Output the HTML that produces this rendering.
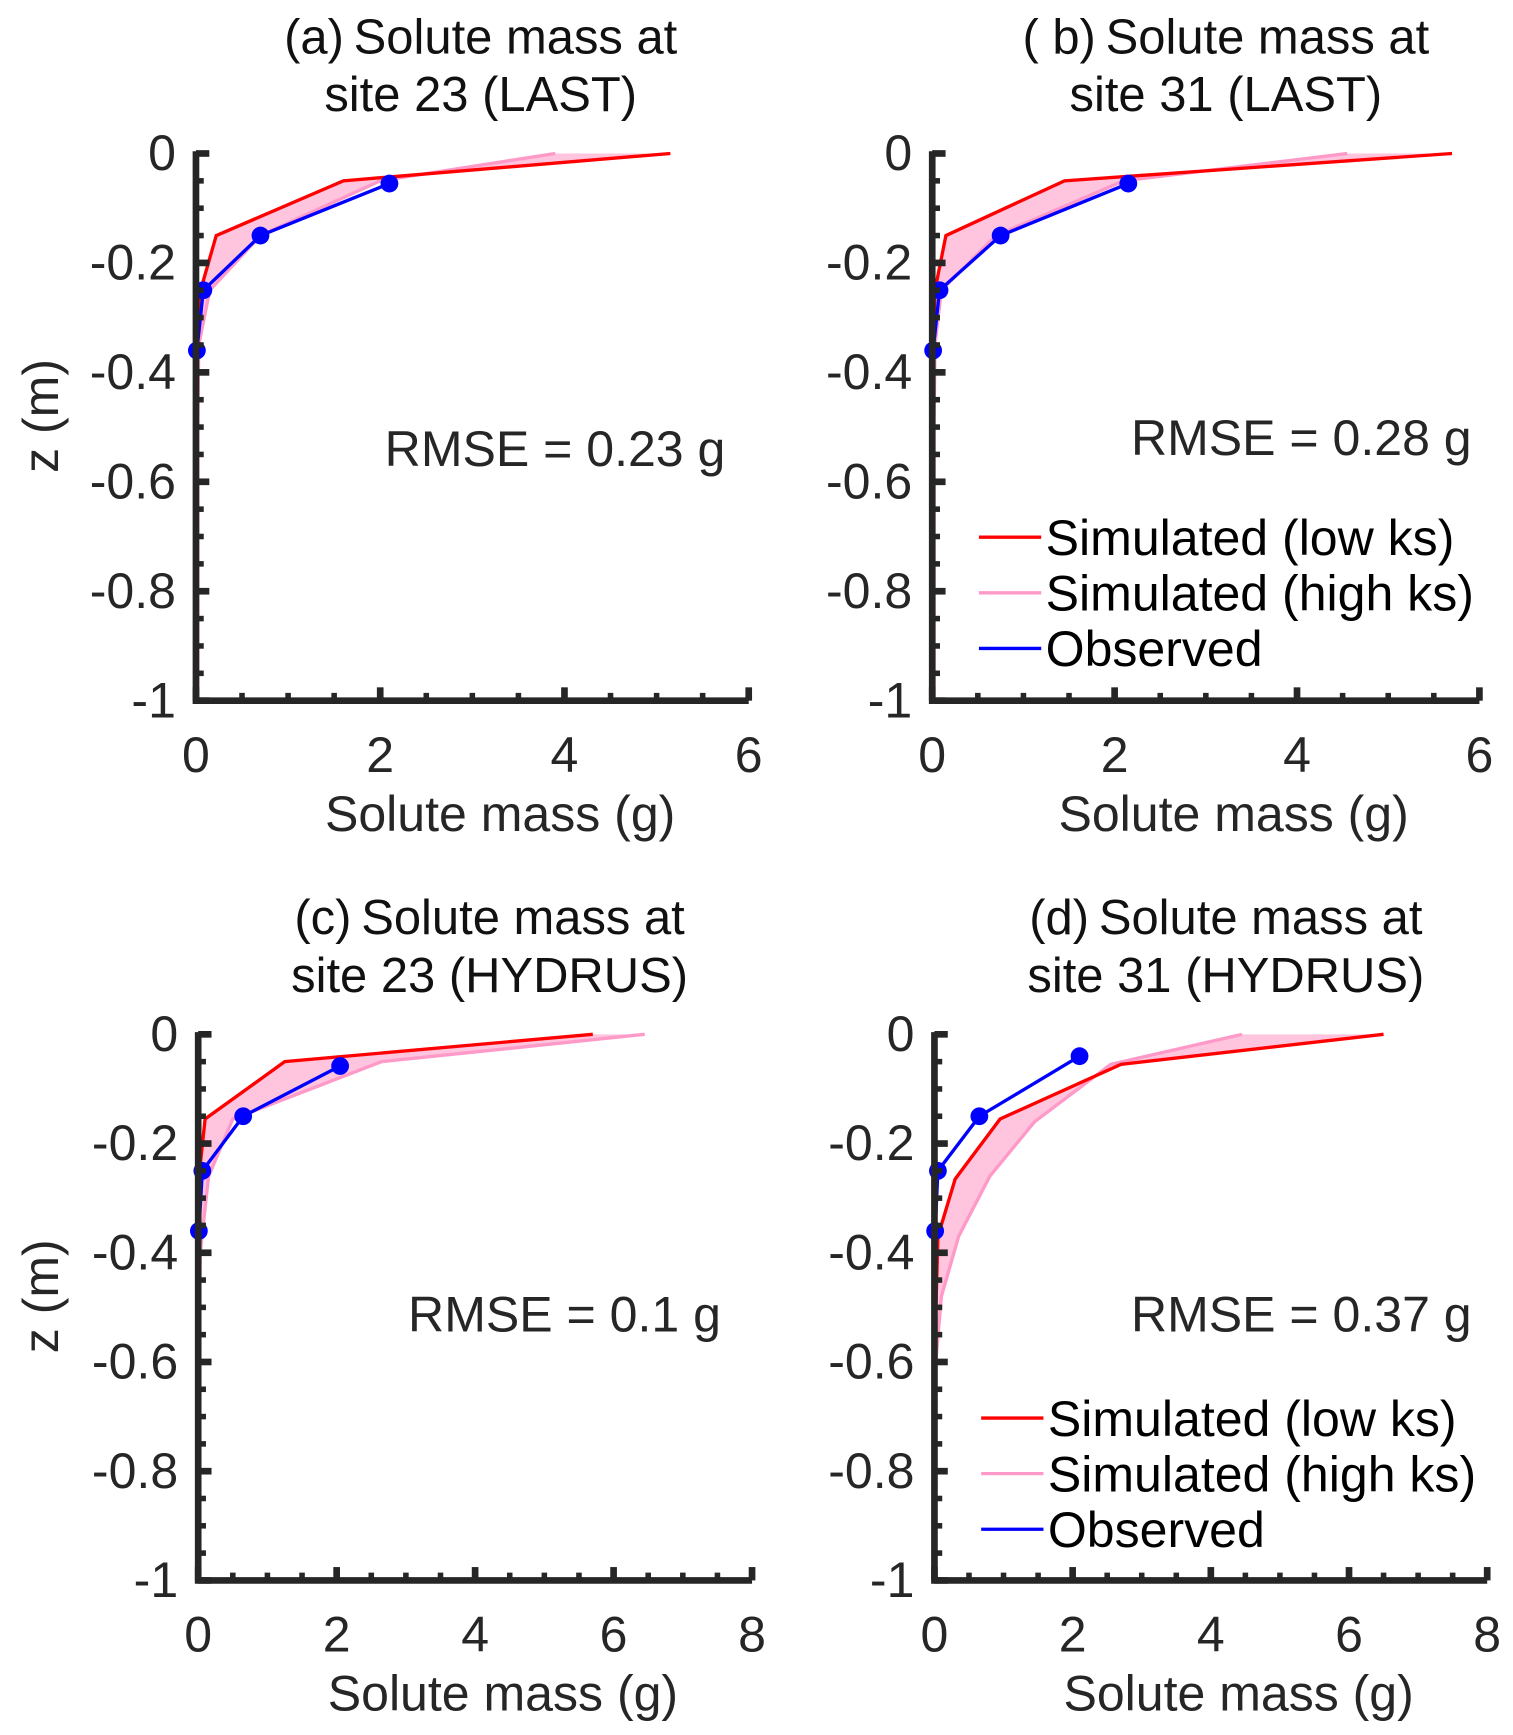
<!DOCTYPE html>
<html><head><meta charset="utf-8"><style>
html,body{margin:0;padding:0;background:#fff;}
svg{display:block;font-family:"Liberation Sans",sans-serif;}
</style></head><body>
<svg id="fig" width="1513" height="1735" viewBox="0 0 1360 1560" xmlns="http://www.w3.org/2000/svg"></svg>
<script>
// depths (m) and values (g)
const aRedZ=[0,-0.05,-0.15,-0.25,-0.35,-0.5,-1];
const aRedX=[5.15,1.6,0.22,0.05,0.01,0,0];
const aPinkZ=[0,-0.05,-0.15,-0.25,-0.35,-0.5,-1];
const aPinkX=[3.9,2.0,0.7,0.15,0.03,0.02,0.02];
const aObsZ=[-0.055,-0.15,-0.25,-0.36];
const aObsX=[2.1,0.7,0.08,0.01];

const bRedZ=[0,-0.05,-0.15,-0.25,-0.35,-0.5,-1];
const bRedX=[5.7,1.45,0.15,0.03,0.01,0,0];
const bPinkZ=[0,-0.05,-0.15,-0.25,-0.35,-0.5,-1];
const bPinkX=[4.55,2.1,0.7,0.1,0.03,0.02,0.02];
const bObsZ=[-0.055,-0.15,-0.25,-0.36];
const bObsX=[2.15,0.75,0.08,0.01];

const cRedZ=[0,-0.05,-0.155,-0.25,-0.4,-0.6,-1];
const cRedX=[5.7,1.25,0.1,0.02,0,0,0];
const cPinkZ=[0,-0.05,-0.155,-0.26,-0.4,-0.5,-1];
const cPinkX=[6.45,2.65,0.5,0.15,0.03,0.02,0.02];
const cObsZ=[-0.058,-0.15,-0.25,-0.36];
const cObsX=[2.05,0.65,0.06,0.01];

const dRedZ=[0,-0.055,-0.155,-0.265,-0.37,-0.6,-1];
const dRedX=[6.5,2.7,0.95,0.3,0.05,0,0];
const dPinkZ=[0,-0.055,-0.16,-0.26,-0.37,-0.48,-0.6,-1];
const dPinkX=[4.45,2.55,1.45,0.8,0.35,0.1,0.02,0.02];
const dObsZ=[-0.04,-0.15,-0.25,-0.36];
const dObsX=[2.1,0.65,0.05,0.01];

const yTicks=[0,-0.2,-0.4,-0.6,-0.8,-1];
const yTickLabels=["0","-0.2","-0.4","-0.6","-0.8","-1"];
const xTicks6=[0,2,4,6];
const xTicks8=[0,2,4,6,8];

const NS="http://www.w3.org/2000/svg";
const svg=document.getElementById('fig');
function mk(tag,attrs,parent){const e=document.createElementNS(NS,tag);for(const k in attrs)e.setAttribute(k,attrs[k]);(parent||svg).appendChild(e);return e;}

const FS=45;
const panels=[
 {id:'a',x0:176,x1:673,y0:138,y1:630,xmax:6,xt:xTicks6,t1:"(a)\u2009Solute mass at",t2:"site 23 (LAST)",tx:432,rm:"RMSE = 0.23 g",rmx:652,rmy:403,leg:false,ylab:true,
  rz:aRedZ,rx:aRedX,pz:aPinkZ,px:aPinkX,oz:aObsZ,ox:aObsX},
 {id:'b',x0:838,x1:1330,y0:138,y1:630,xmax:6,xt:xTicks6,t1:"( b)\u2009Solute mass at",t2:"site 31 (LAST)",tx:1102,rm:"RMSE = 0.28 g",rmx:1323,rmy:393,leg:true,ylab:false,
  rz:bRedZ,rx:bRedX,pz:bPinkZ,px:bPinkX,oz:bObsZ,ox:bObsX},
 {id:'c',x0:178,x1:676,y0:930,y1:1421,xmax:8,xt:xTicks8,t1:"(c)\u2009Solute mass at",t2:"site 23 (HYDRUS)",tx:440,rm:"RMSE = 0.1 g",rmx:648,rmy:1181,leg:false,ylab:true,
  rz:cRedZ,rx:cRedX,pz:cPinkZ,px:cPinkX,oz:cObsZ,ox:cObsX},
 {id:'d',x0:840,x1:1337,y0:930,y1:1421,xmax:8,xt:xTicks8,t1:"(d)\u2009Solute mass at",t2:"site 31 (HYDRUS)",tx:1102,rm:"RMSE = 0.37 g",rmx:1323,rmy:1181,leg:true,ylab:false,
  rz:dRedZ,rx:dRedX,pz:dPinkZ,px:dPinkX,oz:dObsZ,ox:dObsX}
];

panels.forEach(p=>{
 const g=mk('g',{});
 
 
 const sx=v=>p.x0+(v/p.xmax)*(p.x1-p.x0);
 const sy=z=>p.y0+(-z)*(p.y1-p.y0);
 const t=mk('text',{x:p.tx,y:p.y0-90,'text-anchor':'middle','font-size':44,fill:'#111'},g);
 t.textContent=p.t1;
 
 
 const t2=mk('text',{x:p.tx,y:p.y0-38,'text-anchor':'middle','font-size':44,fill:'#111'},g);
 t2.textContent=p.t2;
 
 
 const ptsR=p.rx.map((v,i)=>sx(v)+','+sy(p.rz[i]));
 const ptsP=p.px.map((v,i)=>sx(v)+','+sy(p.pz[i])).reverse();
 const band=mk('polygon',{points:ptsR.concat(ptsP).join(' '),fill:'#ffc4de',stroke:'none'},g);
 
 
 const pl=mk('polyline',{points:p.px.map((v,i)=>sx(v)+','+sy(p.pz[i])).join(' '),fill:'none',stroke:'#ff99c8','stroke-width':3},g);
 
 
 const rl=mk('polyline',{points:ptsR.join(' '),fill:'none',stroke:'#ff0000','stroke-width':3},g);
 
 
 const ol=mk('polyline',{points:p.ox.map((v,i)=>sx(v)+','+sy(p.oz[i])).join(' '),fill:'none',stroke:'#0000ff','stroke-width':3},g);
 
 
 p.ox.forEach((v,i)=>{
  const c=mk('circle',{cx:sx(v),cy:sy(p.oz[i]),r:8,fill:'#0000ff'},g);
  
  
 });
 const ax=mk('path',{d:`M${p.x0},${p.y0-2} V${p.y1} H${p.x1}`,fill:'none',stroke:'#262626','stroke-width':6},g);
 
 
 yTicks.forEach((z,i)=>{
  const y=sy(z);
  mk('line',{x1:p.x0,x2:p.x0+12,y1:y,y2:y,stroke:'#262626','stroke-width':6},g);
  const l=mk('text',{x:p.x0-18,y:y+15,'text-anchor':'end','font-size':FS,fill:'#262626'},g);
  l.textContent=yTickLabels[i];
  
  
 });
 for(let k=1;k<20;k++){ if(k%4===0)continue; const y=p.y0+k*(p.y1-p.y0)/20;
  mk('line',{x1:p.x0,x2:p.x0+7,y1:y,y2:y,stroke:'#262626','stroke-width':5},g);}
 p.xt.forEach(v=>{
  const x=sx(v);
  mk('line',{x1:x,x2:x,y1:p.y1,y2:p.y1-12,stroke:'#262626','stroke-width':6},g);
  const l=mk('text',{x:x,y:p.y1+64,'text-anchor':'middle','font-size':FS,fill:'#262626'},g);
  l.textContent=String(v);
  
  
 });
 const nm=p.xmax*2;
 for(let k=1;k<nm;k++){ if(k%4===0)continue; const x=p.x0+k*(p.x1-p.x0)/nm;
  mk('line',{x1:x,x2:x,y1:p.y1,y2:p.y1-7,stroke:'#262626','stroke-width':5},g);}
 const xl=mk('text',{x:(p.x0+p.x1)/2+25,y:p.y1+117,'text-anchor':'middle','font-size':FS,fill:'#262626'},g);
 xl.textContent='Solute mass (g)';
 
 
 if(p.ylab){
  const yl=mk('text',{x:0,y:0,transform:`translate(52,${(p.y0+p.y1)/2-10}) rotate(-90)`,'text-anchor':'middle','font-size':FS,fill:'#262626'},g);
  yl.textContent='z (m)';
  
  
 }
 const rm=mk('text',{x:p.rmx,y:p.rmy+16,'text-anchor':'end','font-size':FS,fill:'#262626'},g);
 rm.textContent=p.rm;
 
 
 if(p.leg){
  const lx=p.x0+42, ly=p.y0+345;
  const items=[['Simulated (low ks)','#ff0000'],['Simulated (high ks)','#ff99c8'],['Observed','#0000ff']];
  items.forEach((it,i)=>{
   const y=ly+i*50;
   const li=mk('line',{x1:lx,x2:lx+56,y1:y,y2:y,stroke:it[1],'stroke-width':3},g);
   
   
   const lt=mk('text',{x:lx+60,y:y+16,'font-size':FS,fill:'#000'},g);
   lt.textContent=it[0];
   
   
  });
 }
});
</script>
</body></html>
